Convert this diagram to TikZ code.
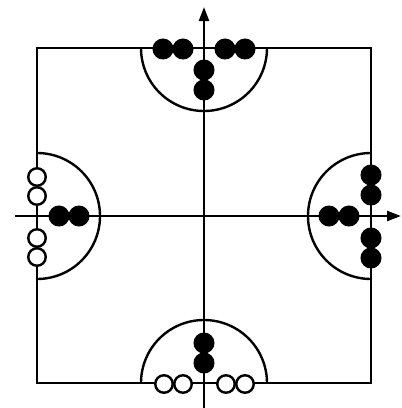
\documentclass[tikz,border=0pt]{standalone}
\usetikzlibrary{arrows.meta}
\begin{document}
\begin{tikzpicture}[x=1pt,y=-1pt,line width=2.4pt,
  full/.style={circle,fill=black,draw=black,line width=1pt,inner sep=0pt,minimum size=20pt},
  hollow/.style={circle,fill=white,draw=black,line width=2.4pt,inner sep=0pt,minimum size=17.5pt},
  axis/.style={-{Triangle[length=14pt,width=10pt]},line width=2.4pt}]
\useasboundingbox (0,0) rectangle (402,408);
% square frame
\draw (37,48) rectangle (371,383);
% semicircles
\draw (141,48) arc[start angle=180,end angle=0,radius=63];
\draw (141,383) arc[start angle=180,end angle=360,radius=63];
\draw (37,153) arc[start angle=-90,end angle=90,radius=63];
\draw (371,153) arc[start angle=270,end angle=90,radius=63];
% axes
\coordinate (vb) at (204,408);
\coordinate (vt) at (204,7);
\coordinate (hl) at (15,216);
\coordinate (hr) at (401,216);
\draw[axis] (vb) -- (vt);
\draw[axis] (hl) -- (hr);
% top
\node[full] (t1) at (163,49) {};
\node[full] (t2) at (183,49) {};
\node[full] (t3) at (225,49) {};
\node[full] (t4) at (245,49) {};
\node[full] (t5) at (204,70) {};
\node[full] (t6) at (204,90) {};
% bottom
\node[hollow] (b1) at (164,384) {};
\node[hollow] (b2) at (183,384) {};
\node[hollow] (b3) at (226,384) {};
\node[hollow] (b4) at (245,384) {};
\node[full] (b5) at (204,343) {};
\node[full] (b6) at (204,363) {};
% left
\node[hollow] (l1) at (37,177) {};
\node[hollow] (l2) at (37,196) {};
\node[hollow] (l3) at (37,238) {};
\node[hollow] (l4) at (37,257) {};
\node[full] (l5) at (59,216) {};
\node[full] (l6) at (79,216) {};
% right
\node[full] (r1) at (371,175) {};
\node[full] (r2) at (371,195) {};
\node[full] (r3) at (371,238) {};
\node[full] (r4) at (371,258) {};
\node[full] (r5) at (329,216) {};
\node[full] (r6) at (349,216) {};
\end{tikzpicture}
\end{document}
